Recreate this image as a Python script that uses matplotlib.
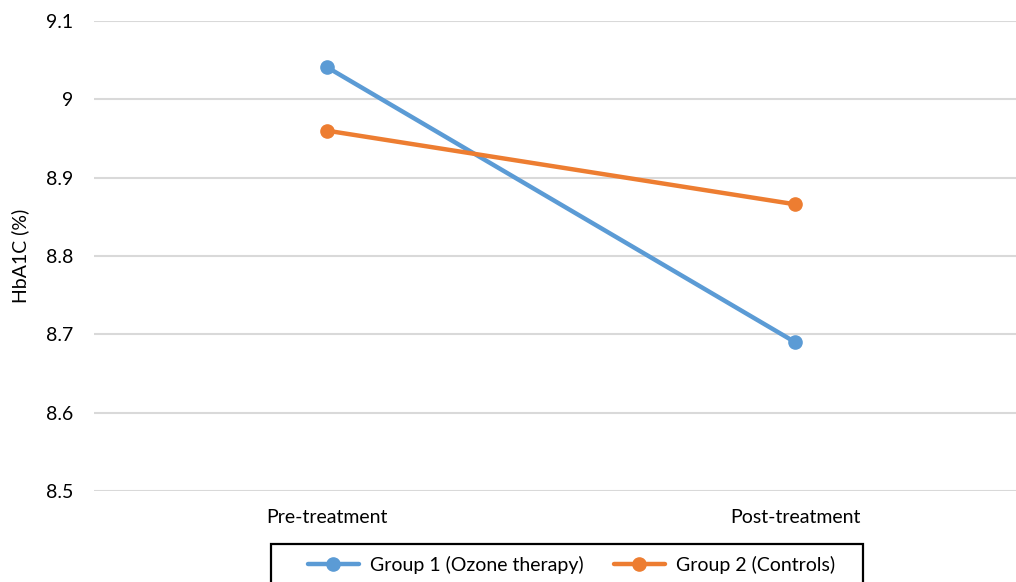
import matplotlib
matplotlib.use("Agg")
import matplotlib.pyplot as plt
from matplotlib.patches import Rectangle

plt.rcParams['font.family'] = ['Lato', 'DejaVu Sans']

categories = ['Pre-treatment', 'Post-treatment']
group1 = [9.041, 8.690]
group2 = [8.960, 8.866]
labels = ['Group 1 (Ozone therapy)', 'Group 2 (Controls)']
colors = ['#5B9BD5', '#ED7D31']
yticks = [8.5, 8.6, 8.7, 8.8, 8.9, 9.0, 9.1]
ytick_labels = ['8.5', '8.6', '8.7', '8.8', '8.9', '9', '9.1']

W, H = 1016, 582
fs = 14
fig = plt.figure(figsize=(W / 100, H / 100), dpi=100)
ax = fig.add_axes([94 / W, 1 - 491 / H, 1 - 94 / W, (491 - 21) / H])

x = list(range(len(categories)))
for vals, lab, c in zip([group1, group2], labels, colors):
    ax.plot(x, vals, color=c, lw=3.2, marker='o', ms=9.5, label=lab, solid_capstyle='round')

ax.set_ylim(8.5, 9.1)
ax.set_xlim(-0.498, 1.472)
ax.set_yticks(yticks)
ax.set_yticklabels(ytick_labels)
ax.set_xticks(x)
ax.set_xticklabels(categories)
ax.tick_params(length=0, labelsize=fs, colors='#000000')
ax.tick_params(axis='y', pad=15)
ax.tick_params(axis='x', pad=13)
ax.grid(axis='y', color='#D9D9D9', lw=1.5)
ax.set_axisbelow(True)
for s in ax.spines.values():
    s.set_visible(False)
ax.set_ylabel('HbA1C (%)', fontsize=fs, labelpad=12)

# legend box (runs off the bottom edge like the original)
fig.patches.append(Rectangle((271 / W, -0.05), (863 - 271) / W, 0.05 + 1 - 544 / H,
                             transform=fig.transFigure, fill=False,
                             edgecolor='black', lw=1.6))
fig.legend(loc='upper left', bbox_to_anchor=(308 / W, 1 - 556 / H), ncol=2,
           fontsize=fs, frameon=False, handlelength=2.6, handletextpad=0.6,
           columnspacing=1.55, borderpad=0, borderaxespad=0)

fig.savefig('out.png', dpi=100)
